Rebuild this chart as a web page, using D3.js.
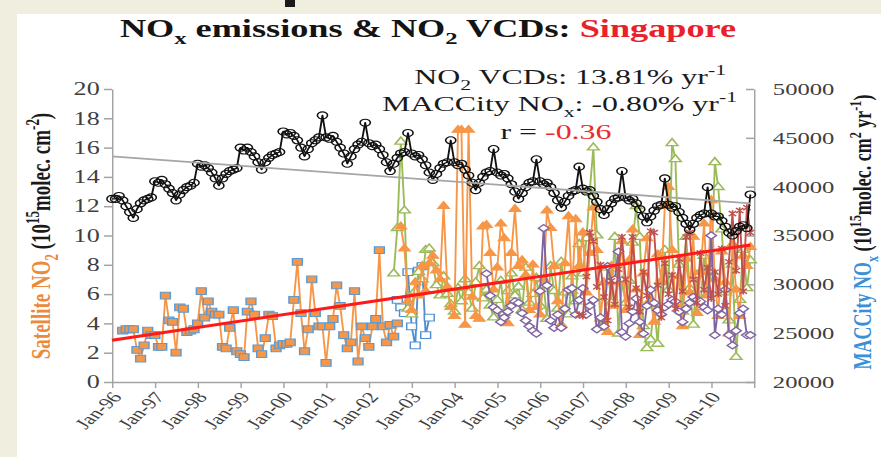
<!DOCTYPE html>
<html>
<head>
<meta charset="utf-8">
<script src="https://cdn.jsdelivr.net/npm/d3@7"></script>
<style>
  html, body { margin: 0; padding: 0; background: #ffffff; }
  svg { display: block; }
</style>
</head>
<body>
<svg id="chart" width="881" height="457"></svg>
<script>
// ---------------- data ----------------
// month index 0 = Jan-1996
const xTickLabels = ["Jan-96","Jan-97","Jan-98","Jan-99","Jan-00","Jan-01","Jan-02","Jan-03",
                     "Jan-04","Jan-05","Jan-06","Jan-07","Jan-08","Jan-09","Jan-10"];
const leftTicks = [0, 2, 4, 6, 8, 10, 12, 14, 16, 18, 20];
const rightTicks = [20000, 25000, 30000, 35000, 40000, 45000, 50000];

// MACCity NOx emissions, monthly Jan-96 .. Dec-10 (right axis)
const maccityNOx = [
  38750, 38750, 39050, 38600, 38000, 37400, 36800, 37700, 38300, 38600, 38750, 38900,
  40550, 40400, 40700, 40250, 39800, 39350, 38600, 39200, 39650, 39950, 40100, 40400,
  42350, 42050, 42200, 41900, 41450, 40850, 40100, 40850, 41300, 41600, 41750, 41900,
  44000, 43700, 44000, 43550, 43100, 42500, 41750, 42500, 42950, 43250, 43400, 43550,
  45650, 45350, 45500, 45200, 44750, 44000, 43100, 43850, 44450, 44750, 45050, 47300,
  45050, 44900, 45200, 44600, 44000, 43400, 42350, 43100, 43850, 44300, 44600, 46550,
  44450, 44150, 44300, 43850, 43250, 42500, 41600, 42350, 42950, 43400, 43550, 45500,
  43400, 43100, 43250, 42800, 42200, 41450, 40700, 41300, 41900, 42350, 42500, 44750,
  42500, 42200, 42350, 41750, 41150, 40400, 39650, 40400, 41000, 41450, 41600, 43850,
  41450, 41150, 41300, 40850, 40250, 39500, 38750, 39350, 39950, 40400, 40550, 42800,
  40550, 40250, 40400, 39950, 39350, 38600, 37850, 38450, 39050, 39500, 39650, 42050,
  39800, 39500, 39650, 39050, 38450, 37700, 37100, 37700, 38300, 38750, 38900, 41600,
  38900, 38600, 38750, 38300, 37700, 36950, 36350, 36950, 37550, 38000, 38150, 40850,
  38150, 37850, 38000, 37400, 36800, 36200, 35600, 36200, 36800, 37100, 37250, 39950,
  37250, 36950, 36950, 36500, 35900, 35300, 35000, 35450, 35900, 36050, 35750, 39200
];

// Satellite NO2 columns (10^15 molec. cm-2), each with its first month index
const gomeStart = 3;
const gomeNO2 = [
  3.5, 3.6, 3.6, 3.6, 2.2, 1.6, 2.5, 3.5, 3.2,
  3.2, 2.4, 2.4, 5.9, 4.2, 4.1, 2.0, 5.1, 5.0, 3.4, 3.5, 3.6,
  4.0, 6.2, 4.4, 5.5, 4.8, 4.6, 4.6, 2.4, 2.3, 3.7, 4.9, 2.1,
  1.9, 1.7, 4.8, 5.5, 4.6, 2.3, 1.9, 3.0, 4.6, 4.5, 2.3, 2.5,
  2.6, 2.6, 2.7, 5.6, 8.2, 4.7, 2.1, 3.6, 7.0, 4.7, 3.8, 3.8,
  1.3, 3.8, 4.3, 6.6, 5.2, 3.2, 2.3, 2.7, 6.2, 1.4, 3.8, 3.0,
  2.4, 3.8, 4.3, 9.0, 3.8, 2.7, 3.9, 3.1, 4.0
];

const gomeLateStart = 80;
const gomeLateNO2 = [5.6, 5.1, 4.7, 7.5, 3.8, 2.5, 7.6, 7.9, 3.2, 4.4];

const sciaStart = 79;
const sciaNO2 = [
  7.4, 10.5, 16.4, 11.7, 5.0,
  4.6, 6.2, 7.5, 7.0, 9.0, 9.1, 8.1, 6.6, 5.9, 7.2, 6.0, 5.3,
  4.8, 6.4, 5.5, 7.0, 6.1, 5.0, 6.8, 7.9, 5.7, 6.3, 5.2, 4.4,
  5.6, 6.9, 4.7, 6.2, 7.4, 5.9, 6.5, 4.9, 7.8, 5.4, 6.0, 7.1,
  5.2, 6.6, 4.3, 7.9, 6.2, 5.0, 8.2, 6.1, 4.6, 7.2, 5.5, 9.4,
  7.4, 9.8, 13.0, 16.0, 10.0, 3.7, 3.7, 7.8, 5.4, 9.9, 3.3, 6.9,
  5.4, 6.9, 9.5, 12.0, 9.9, 3.8, 2.3, 2.9, 5.2, 2.6, 6.8, 9.0,
  6.3, 16.3, 15.2, 8.0, 4.8, 9.9, 6.4, 3.9, 7.3, 5.1, 8.6, 6.0,
  7.6, 15.0, 13.3, 10.4, 6.1, 4.2, 8.0, 1.7, 5.6, 9.0, 6.4, 8.3
];

const mergedStart = 81;
const mergedNO2 = [
  10.6, 9.1, 5.5, 4.9, 6.8, 5.9, 7.9, 6.2, 8.1, 8.6, 7.6, 7.0, 12.0, 6.5, 5.1,
  4.5, 17.2, 17.2, 3.9, 17.2, 5.8, 4.5, 4.3, 10.6, 10.7, 8.8, 6.3,
  7.8, 10.8, 9.8, 4.0, 8.8, 11.8, 7.9, 8.3, 7.3, 4.9, 8.0, 5.1,
  4.6, 7.0, 11.7, 10.5, 7.9, 5.5, 3.9, 8.1, 11.3, 6.2, 11.1, 7.9,
  10.2, 6.1, 8.8, 11.9, 9.0, 4.3, 6.8, 3.4, 7.9, 5.2, 6.8, 9.6,
  4.9, 8.3, 10.4, 6.3, 3.2, 7.4, 9.8, 5.6, 4.1, 8.7, 6.9, 12.0,
  13.3, 9.0, 5.3, 7.2, 3.8, 8.4, 6.1, 9.9, 4.7, 7.5, 10.8, 5.9,
  12.4, 7.0, 4.5, 8.9, 6.8, 3.3, 9.4, 6.3, 4.5, 8.6, 7.9, 9.2
];

const omiStart = 105;
const omiNO2 = [
  7.4, 5.9, 5.1,
  4.9, 4.1, 4.4, 4.8, 5.2, 5.5, 5.4, 4.7, 4.2, 3.8, 3.5, 3.3,
  6.2, 10.5, 6.6, 4.2, 3.7, 4.6, 3.7, 5.0, 6.3, 6.4, 4.6, 5.6,
  6.4, 4.6, 5.2, 5.6, 3.6, 4.4, 3.8, 7.9, 6.9, 7.0, 8.9, 3.4,
  3.1, 4.0, 4.8, 5.7, 4.1, 3.3, 5.2, 6.3, 5.4, 4.9, 4.6, 5.1,
  5.3, 5.6, 5.5, 4.8, 4.1, 5.0, 5.4, 5.8, 5.6, 5.5, 5.1, 4.9,
  10.0, 3.2, 5.0, 4.6, 6.3, 3.2, 2.5, 3.5, 4.7, 5.0, 3.2, 3.2
];

const gome2Start = 131;
const gome2NO2 = [
  4.6,
  4.5, 7.2, 10.2, 9.6, 6.5, 8.0, 5.8, 4.2, 6.9, 5.3, 7.7, 9.9,
  7.0, 5.1, 9.9, 6.4, 4.8, 7.5, 5.9, 10.3, 10.2, 6.6, 4.4, 8.1,
  6.0, 7.3, 5.0, 8.4, 6.2, 9.9, 10.2, 7.0, 5.4, 8.8, 6.3, 7.8,
  5.7, 7.5, 6.0, 9.1, 5.2, 8.2, 11.5, 7.6, 11.7, 6.2, 11.9, 10.2
];

// linear trends, values at first (Jan-96) and last (Dec-10) month
const trendMonths = [0, 179];
const maccityTrend = [43100, 38300];
const satelliteTrend = [2.85, 9.35];

// ---------------- drawing ----------------
const W = 881, H = 457;
const SX = 1.45;                // the chart is drawn horizontally stretched
const svg = d3.select("#chart");

svg.append("rect").attr("width", W).attr("height", H).attr("fill", "#efeedf");
svg.append("rect").attr("x", 17).attr("y", 14).attr("width", W - 17).attr("height", H - 14).attr("fill", "#ffffff");
svg.append("rect").attr("x", 285).attr("y", 0).attr("width", 10).attr("height", 7).attr("fill", "#1a1a1a");

const g = svg.append("g").attr("transform", `scale(${SX},1)`);
const plot = { left: 112 / SX, right: 754 / SX, top: 89, bottom: 382 };

const monthDate = i => new Date(1996, i, 1);
const x = d3.scaleTime().domain([new Date(1996, 0, 1), new Date(2011, 0, 1)]).range([plot.left, plot.right]);
const yL = d3.scaleLinear().domain([0, 20]).range([plot.bottom, plot.top]);
const yR = d3.scaleLinear().domain([20000, 50000]).range([plot.bottom, plot.top]);

const serif = "'Liberation Serif', 'Times New Roman', serif";
const axisColor = "#a3a3a3";
const tickTextColor = "#3f3f3f";

// axes
const gx = g.append("g").attr("transform", `translate(0,${plot.bottom})`)
  .call(d3.axisBottom(x)
    .tickValues(d3.range(16).map(i => new Date(1996 + i, 0, 1)))
    .tickFormat((d, i) => xTickLabels[i] || "")
    .tickSize(6).tickSizeOuter(0));
gx.select(".domain").attr("stroke", axisColor).attr("stroke-width", 1.5);
gx.selectAll(".tick line").attr("stroke", axisColor).attr("stroke-width", 1);
gx.selectAll(".tick text")
  .attr("fill", tickTextColor)
  .style("font-family", serif).style("font-size", "15.5px")
  .attr("text-anchor", "end")
  .attr("x", 0).attr("y", 0).attr("dy", "0.35em")
  .attr("transform", "translate(2.5,12) rotate(-52)");

const gyl = g.append("g").attr("transform", `translate(${plot.left},0)`)
  .call(d3.axisLeft(yL).tickValues(leftTicks).tickSize(5.5).tickPadding(3).tickSizeOuter(0));
gyl.select(".domain").attr("stroke", axisColor).attr("stroke-width", 1);
gyl.selectAll(".tick line").attr("stroke", axisColor).attr("stroke-width", 1.5);
gyl.selectAll(".tick text").attr("fill", tickTextColor)
  .style("font-family", serif).style("font-size", "18px");

const gyr = g.append("g").attr("transform", `translate(${plot.right},0)`)
  .call(d3.axisRight(yR).tickValues(rightTicks).tickFormat(d3.format("d"))
    .tickSizeInner(-5.5).tickSizeOuter(0).tickPadding(13));
gyr.select(".domain").attr("stroke", axisColor).attr("stroke-width", 1);
gyr.selectAll(".tick line").attr("stroke", axisColor).attr("stroke-width", 1.5);
gyr.selectAll(".tick text").attr("fill", tickTextColor)
  .style("font-family", serif).style("font-size", "17px");

// marker shapes
const diamondSym = { draw(ctx, size) { const r = Math.sqrt(size / 2);
  ctx.moveTo(0, -r); ctx.lineTo(r, 0); ctx.lineTo(0, r); ctx.lineTo(-r, 0); ctx.closePath(); } };
const starSym = { draw(ctx, size) { const r = Math.sqrt(size) / 2;
  ctx.moveTo(-r, -r); ctx.lineTo(r, r); ctx.moveTo(r, -r); ctx.lineTo(-r, r);
  ctx.moveTo(0, -r * 1.3); ctx.lineTo(0, r * 1.3); } };

const toPoints = (start, vals) => vals.map((v, i) => ({ date: monthDate(start + i), v }));

function drawSeries(points, yScale, o) {
  const layer = g.append("g");
  layer.append("path").datum(points)
    .attr("fill", "none").attr("stroke", o.line).attr("stroke-width", o.lineWidth || 1.3)
    .attr("stroke-linejoin", "round").attr("opacity", o.lineOpacity || 1)
    .attr("d", d3.line().x(d => x(d.date)).y(d => yScale(d.v)));
  const sel = layer.selectAll(".m").data(points).enter();
  if (o.circle) {
    sel.append("circle").attr("cx", d => x(d.date)).attr("cy", d => yScale(d.v)).attr("r", o.circle)
      .attr("fill", o.fill).attr("stroke", o.stroke).attr("stroke-width", o.strokeWidth || 1);
  } else {
    sel.append("path")
      .attr("transform", d => `translate(${x(d.date)},${yScale(d.v)})`)
      .attr("d", d3.symbol().type(o.symbol).size(o.size))
      .attr("fill", o.fill).attr("stroke", o.stroke).attr("stroke-width", o.strokeWidth || 1);
  }
}

const orange = "#f79646", blue = "#4f8fd0", green = "#9bbb59", purple = "#8064a2", red = "#c0504d";

drawSeries(toPoints(gomeStart, gomeNO2), yL,
  { line: orange, symbol: d3.symbolSquare, size: 46, fill: orange, stroke: "#5b9bd5", strokeWidth: 1 });
drawSeries(toPoints(gomeLateStart, gomeLateNO2), yL,
  { line: blue, symbol: d3.symbolSquare, size: 46, fill: "#ffffff", stroke: blue, strokeWidth: 1 });
drawSeries(toPoints(sciaStart, sciaNO2), yL,
  { line: green, symbol: d3.symbolTriangle, size: 28, fill: "#ffffff", stroke: green, strokeWidth: 1.3 });
drawSeries(toPoints(mergedStart, mergedNO2), yL,
  { line: orange, symbol: d3.symbolTriangle, size: 28, fill: orange, stroke: orange, strokeWidth: 1 });
drawSeries(toPoints(omiStart, omiNO2), yL,
  { line: purple, symbol: diamondSym, size: 26, fill: "#ffffff", stroke: purple, strokeWidth: 1.2 });
drawSeries(toPoints(gome2Start, gome2NO2), yL,
  { line: red, symbol: starSym, size: 26, fill: "none", stroke: red, strokeWidth: 1.2 });
drawSeries(toPoints(0, maccityNOx), yR,
  { line: "#111111", lineWidth: 1.3, circle: 3.5, fill: "none", stroke: "#111111", strokeWidth: 1.1 });

// trend lines
g.append("line")
  .attr("x1", x(monthDate(trendMonths[0]))).attr("x2", x(monthDate(trendMonths[1])))
  .attr("y1", yR(maccityTrend[0])).attr("y2", yR(maccityTrend[1]))
  .attr("stroke", "#a6a6a6").attr("stroke-width", 1.8);
g.append("line")
  .attr("x1", x(monthDate(trendMonths[0]))).attr("x2", x(monthDate(trendMonths[1])))
  .attr("y1", yL(satelliteTrend[0])).attr("y2", yL(satelliteTrend[1]))
  .attr("stroke", "#ff1a1a").attr("stroke-width", 3);

// text helpers
function addParts(textSel, parts, size) {
  let cur = 0;
  parts.forEach(p => {
    const off = p.sub ? 0.28 * size : (p.sup ? -0.4 * size : 0);
    const ts = textSel.append("tspan").text(p.t).attr("dy", off - cur);
    if (p.sub || p.sup) ts.attr("font-size", (0.68 * size) + "px");
    if (p.fill) ts.attr("fill", p.fill);
    cur = off;
  });
}

// title
const title = g.append("text").attr("x", 428 / SX).attr("y", 37).attr("text-anchor", "middle")
  .attr("fill", "#141414").style("font-family", serif).style("font-size", "25px").style("font-weight", "bold");
addParts(title, [{ t: "NO" }, { t: "x", sub: true }, { t: " emissions & NO" }, { t: "2", sub: true },
  { t: " VCDs: " }, { t: "Singapore", fill: "#e8212b" }], 25);

// statistics
const statStyle = s => s.attr("fill", "#1a1a1a").style("font-family", serif).style("font-size", "22px");
const s1 = g.append("text").attr("x", 726 / SX).attr("y", 84).attr("text-anchor", "end").call(statStyle);
addParts(s1, [{ t: "NO" }, { t: "2", sub: true }, { t: " VCDs: 13.81% yr" }, { t: "-1", sup: true }], 22);
const s2 = g.append("text").attr("x", 737 / SX).attr("y", 111).attr("text-anchor", "end").call(statStyle);
addParts(s2, [{ t: "MACCity NO" }, { t: "x", sub: true }, { t: ": -0.80% yr" }, { t: "-1", sup: true }], 22);
const s3 = g.append("text").attr("x", 556 / SX).attr("y", 139).attr("text-anchor", "middle").call(statStyle);
addParts(s3, [{ t: "r = " }, { t: "-0.36", fill: "#ee2a2a" }], 22);

// axis titles
const yLabelL = g.append("text").attr("transform", `translate(${50 / SX},236) rotate(-90)`)
  .attr("text-anchor", "middle").attr("fill", "#1a1a1a")
  .style("font-family", serif).style("font-size", "19px").style("font-weight", "bold");
addParts(yLabelL, [{ t: "Satellite NO", fill: "#ec8a3c" }, { t: "2", sub: true, fill: "#ec8a3c" },
  { t: " (10" }, { t: "15", sup: true }, { t: "molec. cm" }, { t: "-2", sup: true }, { t: ")" }], 19);

const yLabelR = g.append("text").attr("transform", `translate(${871 / SX},232) rotate(-90)`)
  .attr("text-anchor", "middle").attr("fill", "#1a1a1a")
  .style("font-family", serif).style("font-size", "18px").style("font-weight", "bold");
addParts(yLabelR, [{ t: "MACCity NO", fill: "#3b8fd6" }, { t: "x", sub: true, fill: "#3b8fd6" },
  { t: " (10" }, { t: "15", sup: true }, { t: "molec. cm" }, { t: "2", sup: true }, { t: " yr" },
  { t: "-1", sup: true }, { t: ")" }], 18);
</script>
</body>
</html>
